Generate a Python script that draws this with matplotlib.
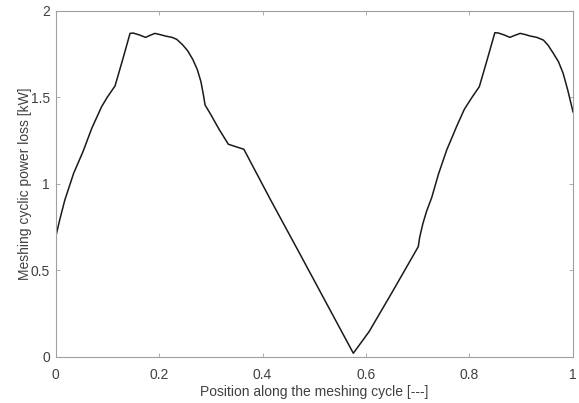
import matplotlib
matplotlib.use("Agg")
import matplotlib.pyplot as plt

# position along the meshing cycle and power loss
position = [0.0, 0.008, 0.018, 0.035, 0.053, 0.070, 0.089, 0.100, 0.115, 0.130,
            0.144, 0.150, 0.162, 0.174, 0.183, 0.192, 0.202, 0.212, 0.225, 0.234,
            0.245, 0.255, 0.265, 0.274, 0.281, 0.286, 0.289, 0.300, 0.315, 0.334,
            0.364, 0.415, 0.473, 0.5755, 0.606, 0.650, 0.701, 0.704, 0.710, 0.717,
            0.727, 0.740, 0.756, 0.775, 0.790, 0.805, 0.819, 0.834, 0.849, 0.856,
            0.867, 0.878, 0.888, 0.898, 0.908, 0.917, 0.930, 0.943, 0.952, 0.962,
            0.972, 0.981, 0.990, 1.0]
power_loss = [0.688, 0.790, 0.906, 1.060, 1.185, 1.320, 1.445, 1.500, 1.565, 1.720,
              1.869, 1.871, 1.860, 1.846, 1.858, 1.869, 1.862, 1.854, 1.846, 1.835,
              1.805, 1.770, 1.720, 1.660, 1.590, 1.510, 1.455, 1.400, 1.320, 1.228,
              1.199, 0.910, 0.590, 0.020, 0.145, 0.370, 0.636, 0.694, 0.770, 0.840,
              0.920, 1.055, 1.195, 1.330, 1.430, 1.500, 1.561, 1.715, 1.873, 1.871,
              1.860, 1.846, 1.858, 1.869, 1.862, 1.854, 1.846, 1.830, 1.800, 1.754,
              1.705, 1.638, 1.540, 1.416]

xticks = [0, 0.2, 0.4, 0.6, 0.8, 1]
xticklabels = ["0", "0.2", "0.4", "0.6", "0.8", "1"]
yticks = [0, 0.5, 1, 1.5, 2]
yticklabels = ["0", "0.5", "1", "1.5", "2"]

plt.rcParams['font.family'] = ['Liberation Sans', 'DejaVu Sans']

fig = plt.figure(figsize=(5.79, 4.03), dpi=100)
ax = fig.add_axes([0.0959, 0.1149, 0.8937, 0.8585])

ax.plot(position, power_loss, color='#1a1a1a', linewidth=1.1)

ax.set_xlim(0, 1)
ax.set_ylim(0, 2)
ax.set_xticks(xticks)
ax.set_xticklabels(xticklabels)
ax.set_yticks(yticks)
ax.set_yticklabels(yticklabels)

# matlab-like box with inward ticks on all sides
ax.tick_params(direction='in', top=True, right=True, length=3, width=0.6,
               color='#a0a0a0', labelcolor='#404040', labelsize=10)
ax.tick_params(axis='x', pad=8)
ax.tick_params(axis='y', pad=4)
for s in ax.spines.values():
    s.set_color('#a0a0a0')
    s.set_linewidth(0.8)

ax.set_xlabel("Position along the meshing cycle [---]", fontsize=10, color='#404040', labelpad=2)
ax.set_ylabel("Meshing cyclic power loss [kW]", fontsize=10, color='#404040', labelpad=-1)

fig.savefig("out.png", dpi=100)
